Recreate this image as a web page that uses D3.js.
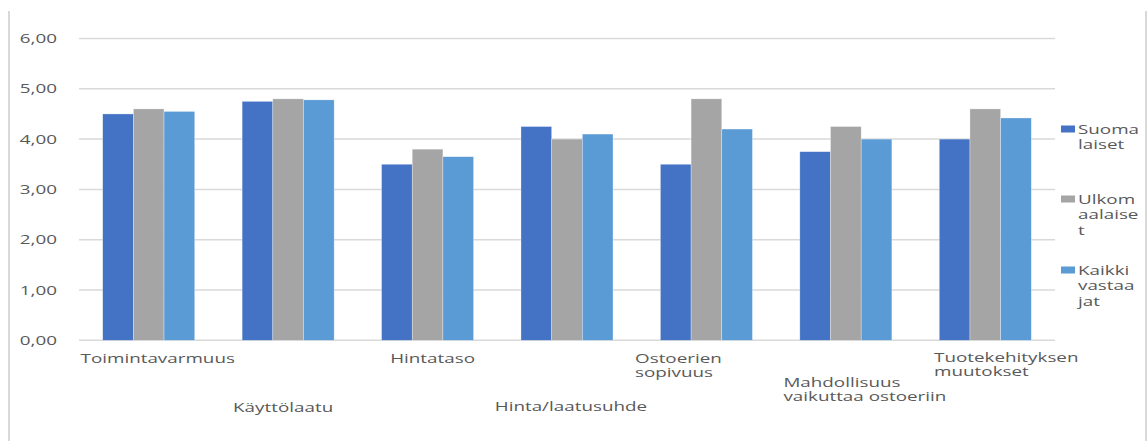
<!DOCTYPE html>
<html><head><meta charset="utf-8">
<script src="https://cdn.jsdelivr.net/npm/d3@7"></script>
<style>html,body{margin:0;padding:0;background:#fff}svg{display:block}</style>
</head><body>
<svg id="chart" width="1148" height="441"></svg>
<script>
// ---- data ----
const categories = ["Toimintavarmuus","Käyttölaatu","Hintataso","Hinta/laatusuhde","Ostoerien sopivuus","Mahdollisuus vaikuttaa ostoeriin","Tuotekehityksen muutokset"];
const categoryLines = [["Toimintavarmuus"],["Käyttölaatu"],["Hintataso"],["Hinta/laatusuhde"],["Ostoerien","sopivuus"],["Mahdollisuus","vaikuttaa ostoeriin"],["Tuotekehityksen","muutokset"]];
const seriesNames = ["Suomalaiset","Ulkomaalaiset","Kaikki vastaajat"];
const legendLines = [["Suoma","laiset"],["Ulkom","aalaise","t"],["Kaikki","vastaa","jat"]];
const suomalaiset    = [4.50,4.75,3.50,4.25,3.50,3.75,4.00];
const ulkomaalaiset  = [4.60,4.80,3.80,4.00,4.80,4.25,4.60];
const kaikkiVastaajat= [4.55,4.78,3.65,4.10,4.20,4.00,4.42];
const yTicks = [0,1,2,3,4,5,6];
const yTickLabels = ["0,00","1,00","2,00","3,00","4,00","5,00","6,00"];

// ---- layout / style ----
const colors = ["#4472c4","#a5a5a5","#5b9bd5"];
const textColor = "#595959";
const SX = 1.57; // horizontal glyph stretch of reference
const FONT = "'Open Sans', sans-serif";
const labelLayout = [ // dx from band centre, first baseline
  {dx:9, y:363},{dx:-5, y:412},{dx:5, y:363},{dx:4, y:411},
  {dx:-28, y:363},{dx:19, y:387},{dx:21, y:362}];

const svg = d3.select("#chart");
const values = [suomalaiset, ulkomaalaiset, kaikkiVastaajat];

// frame lines
svg.append("line").attr("x1",9).attr("x2",9).attr("y1",11).attr("y2",441).attr("stroke","#d9d9d9").attr("stroke-width",2);
svg.append("line").attr("x1",1146).attr("x2",1146).attr("y1",11).attr("y2",441).attr("stroke","#d9d9d9").attr("stroke-width",2);

const y = d3.scaleLinear().domain([0,6]).range([340.3,38.5]);
const x = d3.scaleBand().domain(categories).range([79,1055]).paddingInner(0.34).paddingOuter(0.17);
const xs = d3.scaleBand().domain(seriesNames).range([0,x.bandwidth()]).padding(0);

// gridlines
svg.append("g").selectAll("line").data(yTicks).join("line")
  .attr("x1",79).attr("x2",1055)
  .attr("y1",d=>y(d)).attr("y2",d=>y(d))
  .attr("stroke","#d9d9d9").attr("stroke-width",1.5);

// y labels
svg.append("g").selectAll("text").data(yTicks).join("text")
  .attr("transform",d=>`translate(57,${y(d)+4.5}) scale(${SX},1)`)
  .attr("text-anchor","end").attr("font-family",FONT).attr("font-size",12)
  .attr("fill",textColor).text((d,i)=>yTickLabels[i]);

// bars
const g = svg.append("g").selectAll("g").data(categories).join("g")
  .attr("transform",d=>`translate(${x(d)},0)`);
g.selectAll("rect").data((c,ci)=>seriesNames.map((s,si)=>({s,si,v:values[si][ci]}))).join("rect")
  .attr("x",d=>xs(d.s)).attr("width",xs.bandwidth())
  .attr("y",d=>y(d.v)).attr("height",d=>y(0)-y(d.v))
  .attr("fill",d=>colors[d.si]).attr("stroke","rgba(255,255,255,0.5)").attr("stroke-width",0.6);

// category labels (one text element per label, lines as tspans)
categories.forEach((c,i)=>{
  const lay = labelLayout[i];
  const gc = x(c)+x.bandwidth()/2 + lay.dx;
  const lg = svg.append("g");
  const t = lg.append("text").attr("transform",`scale(${SX},1)`)
    .attr("font-family",FONT).attr("font-size",12).attr("fill",textColor);
  categoryLines[i].forEach((ln,li)=>{
    t.append("tspan").attr("x",0).attr("y",li*14).text(ln);
  });
  const w = t.node().getBBox().width*SX;
  lg.attr("transform",`translate(${gc-w/2},${lay.y})`);
});

// legend
const legY = [129,199,270];
seriesNames.forEach((s,i)=>{
  svg.append("rect").attr("x",1061).attr("y",legY[i]-3.5).attr("width",14).attr("height",7).attr("fill",colors[i]);
  const t = svg.append("text").attr("transform",`translate(1078,${legY[i]+4.5}) scale(${SX},1)`)
    .attr("font-family",FONT).attr("font-size",12).attr("fill",textColor);
  legendLines[i].forEach((ln,li)=>{
    t.append("tspan").attr("x",0).attr("y",li*16).text(ln);
  });
});
</script>
</body></html>
